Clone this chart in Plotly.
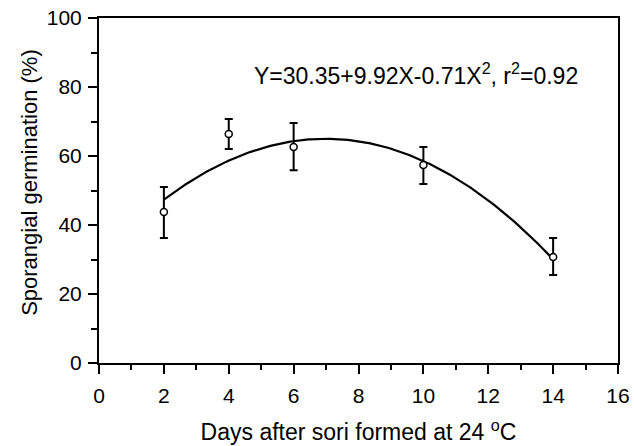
import numpy as np
import plotly.graph_objects as go

# Data
days = [2, 4, 6, 10, 14]
germination = [43.8, 66.4, 62.6, 57.4, 30.7]
err_upper = [51.0, 70.7, 69.6, 62.6, 36.2]
err_lower = [36.2, 62.0, 55.9, 51.9, 25.5]

# Fitted quadratic shown on the chart
coef = [30.35, 9.92, -0.71]
fit_range = [2, 14]

x_ticks = [0, 2, 4, 6, 8, 10, 12, 14, 16]
y_ticks = [0, 20, 40, 60, 80, 100]

err_plus = [u - g for u, g in zip(err_upper, germination)]
err_minus = [g - l for g, l in zip(germination, err_lower)]

xf = np.linspace(fit_range[0], fit_range[1], 200)
yf = coef[0] + coef[1] * xf + coef[2] * xf ** 2

FONT = "Liberation Sans, Arial, sans-serif"

fig = go.Figure()
fig.add_trace(go.Scatter(x=xf, y=yf, mode="lines",
                         line=dict(color="black", width=2.2),
                         hoverinfo="skip", showlegend=False))
fig.add_trace(go.Scatter(
    x=days, y=germination, mode="markers",
    marker=dict(symbol="circle", size=7, color="white",
                line=dict(color="black", width=1.5)),
    error_y=dict(type="data", symmetric=False, array=err_plus,
                 arrayminus=err_minus, color="black", thickness=2, width=4),
    showlegend=False))

fig.add_annotation(x=14.83, y=83.8, xref="x", yref="y", xanchor="right",
                   yanchor="middle", showarrow=False,
                   text="Y=30.35+9.92X-0.71X<sup>2</sup>, r<sup>2</sup>=0.92",
                   font=dict(family=FONT, size=23, color="black"))

# y-axis title as a rotated annotation
fig.add_annotation(x=-0.133, y=0.525, xref="paper", yref="paper",
                   xanchor="center", yanchor="middle", showarrow=False,
                   textangle=-90, text="Sporangial germination (%)",
                   font=dict(family=FONT, size=22, color="black"))

axis_common = dict(showgrid=False, zeroline=False, showline=True,
                   linecolor="black", linewidth=2, mirror=True,
                   ticks="outside", ticklen=9, tickwidth=2, tickcolor="black",
                   automargin=False,
                   tickfont=dict(family=FONT, size=21, color="black"))

fig.update_xaxes(range=[0, 16], tickvals=x_ticks, ticklabelstandoff=4,
                 minor=dict(dtick=1, ticks="outside", ticklen=5,
                            tickwidth=2, tickcolor="black"),
                 title=dict(text="Days after sori formed at 24 <sup>o</sup>C",
                            font=dict(family=FONT, size=23, color="black"),
                            standoff=18),
                 **axis_common)
fig.update_yaxes(range=[0, 100], tickvals=y_ticks, ticklabelstandoff=2,
                 minor=dict(dtick=10, ticks="outside", ticklen=6,
                            tickwidth=2, tickcolor="black"),
                 **axis_common)

fig.update_layout(width=634, height=446,
                  margin=dict(l=99, r=16, t=18, b=83),
                  paper_bgcolor="white", plot_bgcolor="white")

fig.write_html("out.html")
